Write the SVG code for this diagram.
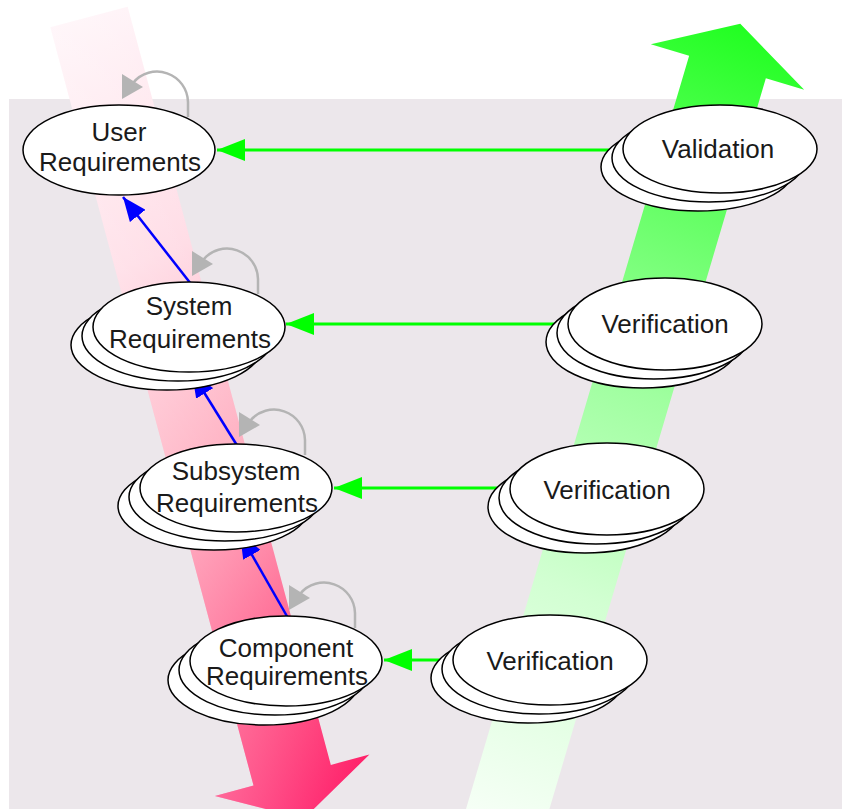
<svg xmlns="http://www.w3.org/2000/svg" xmlns:xlink="http://www.w3.org/1999/xlink" width="842" height="809" viewBox="0 0 842 809">
<style>
.n{fill:#fff;stroke:#000;stroke-width:1.5}
.t{font-family:"Liberation Sans",Arial,sans-serif;font-size:26px;fill:#1a1a1a;text-anchor:middle}
.g{stroke:#00ff00;stroke-width:3;fill:none;marker-end:url(#ga)}
.b{stroke:#0000ff;stroke-width:2.5;fill:none;marker-end:url(#ba)}
.l{stroke:#b4b4b4;stroke-width:2.5;fill:none}
.lh{fill:#b4b4b4}
</style>
<defs>
<linearGradient id="rg" gradientUnits="userSpaceOnUse" x1="-40" y1="0" x2="60" y2="830">
<stop offset="0" stop-color="#fff4f8"/>
<stop offset="0.3" stop-color="#ffdae4"/>
<stop offset="0.55" stop-color="#ffaabd"/>
<stop offset="0.8" stop-color="#ff5283"/>
<stop offset="1" stop-color="#ff1060"/>
</linearGradient>
<linearGradient id="rgo" gradientUnits="userSpaceOnUse" x1="-80" y1="0" x2="80" y2="0">
<stop offset="0" stop-color="#fff" stop-opacity="0.3"/>
<stop offset="1" stop-color="#fff" stop-opacity="0"/>
</linearGradient>
<linearGradient id="gg" gradientUnits="userSpaceOnUse" x1="-40" y1="800" x2="40" y2="-45">
<stop offset="0" stop-color="#f8fff8"/>
<stop offset="0.3" stop-color="#d2ffd2"/>
<stop offset="0.55" stop-color="#a0ffa0"/>
<stop offset="0.78" stop-color="#62ff62"/>
<stop offset="1" stop-color="#20ff20"/>
</linearGradient>
<marker id="ga" viewBox="0 -11 28 22" refX="28" refY="0" markerWidth="28" markerHeight="22" markerUnits="userSpaceOnUse" orient="auto">
<path d="M0,-11 L28,0 L0,11 z" fill="#00ff00"/>
</marker>
<marker id="ba" viewBox="0 -10 24 20" refX="24" refY="0" markerWidth="24" markerHeight="20" markerUnits="userSpaceOnUse" orient="auto">
<path d="M0,-10 L24,0 L0,10 z" fill="#0000ff"/>
</marker>
</defs>
<rect x="0" y="0" width="842" height="809" fill="#fff"/>
<rect x="9" y="99" width="833" height="710" fill="#ece7eb"/>
<g id="decreasing-arrow" transform="translate(89,17) rotate(-15)">
<path d="M-40,0 L40,0 L40,785 L80,785 L0,830 L-80,785 L-40,785 z" fill="url(#rg)"/>
<path d="M-40,0 L40,0 L40,785 L80,785 L0,830 L-80,785 L-40,785 z" fill="url(#rgo)"/>
</g>
<g id="increasing-arrow" transform="translate(727.5,67) rotate(16.5)">
<path d="M-40,800 L-40,0 L-80,0 L0,-45 L80,0 L40,0 L40,800 z" fill="url(#gg)"/>
</g>
<g id="connectors">
<g transform="translate(119,150)"><path class="l" d="M69,-33 L69,-48 A31,31 0 0 0 14,-67"/><path class="lh" d="M3,-76 L24,-63 L3,-51 z"/></g>
<g transform="translate(189,327)"><path class="l" d="M69,-33 L69,-48 A31,31 0 0 0 14,-67"/><path class="lh" d="M3,-76 L24,-63 L3,-51 z"/></g>
<g transform="translate(236,488)"><path class="l" d="M69,-33 L69,-48 A31,31 0 0 0 14,-67"/><path class="lh" d="M3,-76 L24,-63 L3,-51 z"/></g>
<g transform="translate(286,661)"><path class="l" d="M69,-33 L69,-48 A31,31 0 0 0 14,-67"/><path class="lh" d="M3,-76 L24,-63 L3,-51 z"/></g>
<path class="b" d="M191,284 L123,197"/>
<path class="b" d="M238,447 L192,373"/>
<path class="b" d="M288,618 L240,534"/>
<path class="g" d="M612,150 L217,150"/>
<path class="g" d="M555,324 L286,324"/>
<path class="g" d="M499,488 L334,488"/>
<path class="g" d="M442,660 L384,660"/>
</g>
<g id="user-requirements">
<ellipse class="n" cx="119" cy="150" rx="96" ry="45"/>
<text class="t" x="119" y="141">User</text>
<text class="t" x="120" y="171">Requirements</text>
</g>
<g id="system-requirements">
<ellipse class="n" cx="167" cy="345" rx="96" ry="45"/>
<ellipse class="n" cx="178" cy="336" rx="96" ry="45"/>
<ellipse class="n" cx="189" cy="327" rx="96" ry="45"/>
<text class="t" x="189" y="315">System</text>
<text class="t" x="190" y="348">Requirements</text>
</g>
<g id="subsystem-requirements">
<ellipse class="n" cx="214" cy="506" rx="96" ry="44"/>
<ellipse class="n" cx="225" cy="497" rx="96" ry="44"/>
<ellipse class="n" cx="236" cy="488" rx="96" ry="44"/>
<text class="t" x="236" y="480">Subsystem</text>
<text class="t" x="237" y="512">Requirements</text>
</g>
<g id="component-requirements">
<ellipse class="n" cx="264" cy="680" rx="96" ry="45"/>
<ellipse class="n" cx="275" cy="670" rx="96" ry="45"/>
<ellipse class="n" cx="286" cy="661" rx="96" ry="45"/>
<text class="t" x="286" y="657">Component</text>
<text class="t" x="287" y="685">Requirements</text>
</g>
<g id="validation">
<ellipse class="n" cx="698" cy="167" rx="97" ry="44"/>
<ellipse class="n" cx="709" cy="158" rx="97" ry="44"/>
<ellipse class="n" cx="720" cy="149" rx="97" ry="44"/>
<text class="t" x="718" y="158">Validation</text>
</g>
<g id="verification-1">
<ellipse class="n" cx="643" cy="342" rx="97" ry="46"/>
<ellipse class="n" cx="654" cy="333" rx="97" ry="46"/>
<ellipse class="n" cx="665" cy="324" rx="97" ry="46"/>
<text class="t" x="665" y="333">Verification</text>
</g>
<g id="verification-2">
<ellipse class="n" cx="585" cy="507" rx="97" ry="46"/>
<ellipse class="n" cx="596" cy="498" rx="97" ry="46"/>
<ellipse class="n" cx="607" cy="489" rx="97" ry="46"/>
<text class="t" x="607" y="499">Verification</text>
</g>
<g id="verification-3">
<ellipse class="n" cx="528" cy="678" rx="97" ry="45"/>
<ellipse class="n" cx="539" cy="669" rx="97" ry="45"/>
<ellipse class="n" cx="550" cy="660" rx="97" ry="45"/>
<text class="t" x="550" y="670">Verification</text>
</g>
</svg>
